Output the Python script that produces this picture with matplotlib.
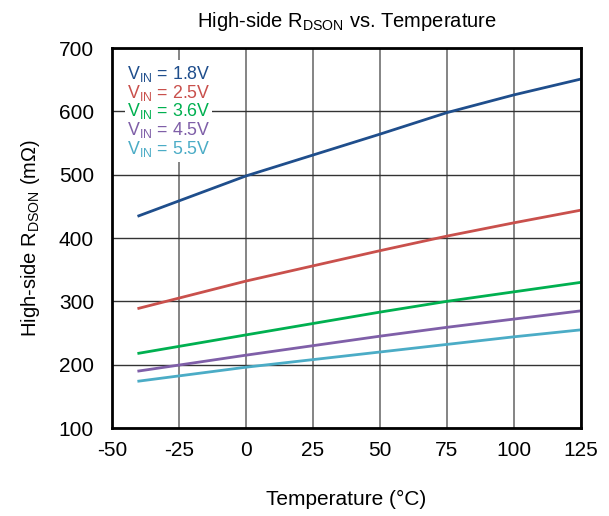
import matplotlib
matplotlib.use("Agg")
import matplotlib.pyplot as plt
from matplotlib.patches import Rectangle

plt.rcParams["font.family"] = ["Liberation Sans", "DejaVu Sans"]
plt.rcParams["mathtext.fontset"] = "custom"
plt.rcParams["mathtext.rm"] = "Liberation Sans"
plt.rcParams["mathtext.it"] = "Liberation Sans"
plt.rcParams["axes.unicode_minus"] = False

temps = [-40, 0, 25, 50, 75, 100, 125]
r_18 = [435, 498, 531, 564, 598, 626, 651]
r_25 = [289, 332, 356, 380, 403, 424, 444]
r_36 = [218, 247, 265, 283, 300, 315, 330]
r_45 = [190, 215, 230, 245, 259, 272, 285]
r_55 = [174, 196, 208, 220, 232, 244, 255]

labels = ["1.8V", "2.5V", "3.6V", "4.5V", "5.5V"]
colors = ["#1f4e8c", "#c9504c", "#00b050", "#7f5fa8", "#4bacc6"]
series = [r_18, r_25, r_36, r_45, r_55]

fig = plt.figure(figsize=(6.09, 5.16), dpi=100)
ax = fig.add_axes([112 / 609, 1 - 428 / 516, (581 - 112) / 609, (428 - 48) / 516])

for vals, c in zip(series, colors):
    ax.plot(temps, vals, color=c, lw=2)

ax.set_xlim(-50, 125)
ax.set_ylim(100, 700)
ax.set_xticks(range(-50, 126, 25))
ax.set_yticks(range(100, 701, 100))
ax.xaxis.grid(True, color="#707070", lw=1.2)
ax.yaxis.grid(True, color="#333333", lw=1)
ax.set_axisbelow(True)
ax.tick_params(axis="x", length=0, labelsize=15, pad=9)
ax.tick_params(axis="y", length=0, labelsize=15, pad=13)
for s in ax.spines.values():
    s.set_linewidth(2)

# white box behind the legend text
ax.add_patch(Rectangle((0.028, 0.70), 0.185, 0.268, transform=ax.transAxes,
                       facecolor="white", edgecolor="none", zorder=1.5))
for i, (lab, c) in enumerate(zip(labels, colors)):
    ax.text(0.032, 0.918 - i * 0.049, r"$\mathrm{V_{IN}}$ = " + lab, color=c,
            fontsize=12.8, transform=ax.transAxes, va="baseline", ha="left", zorder=3)

ax.set_title(r"High-side R$_{\mathrm{DSON}}$ vs. Temperature", fontsize=14.5, pad=15)
ax.set_xlabel("Temperature (°C)", fontsize=15, labelpad=22)
ax.set_ylabel(r"High-side R$_{\mathrm{DSON}}$ (mΩ)", fontsize=14.5, labelpad=12)

fig.savefig("out.png", dpi=100)
